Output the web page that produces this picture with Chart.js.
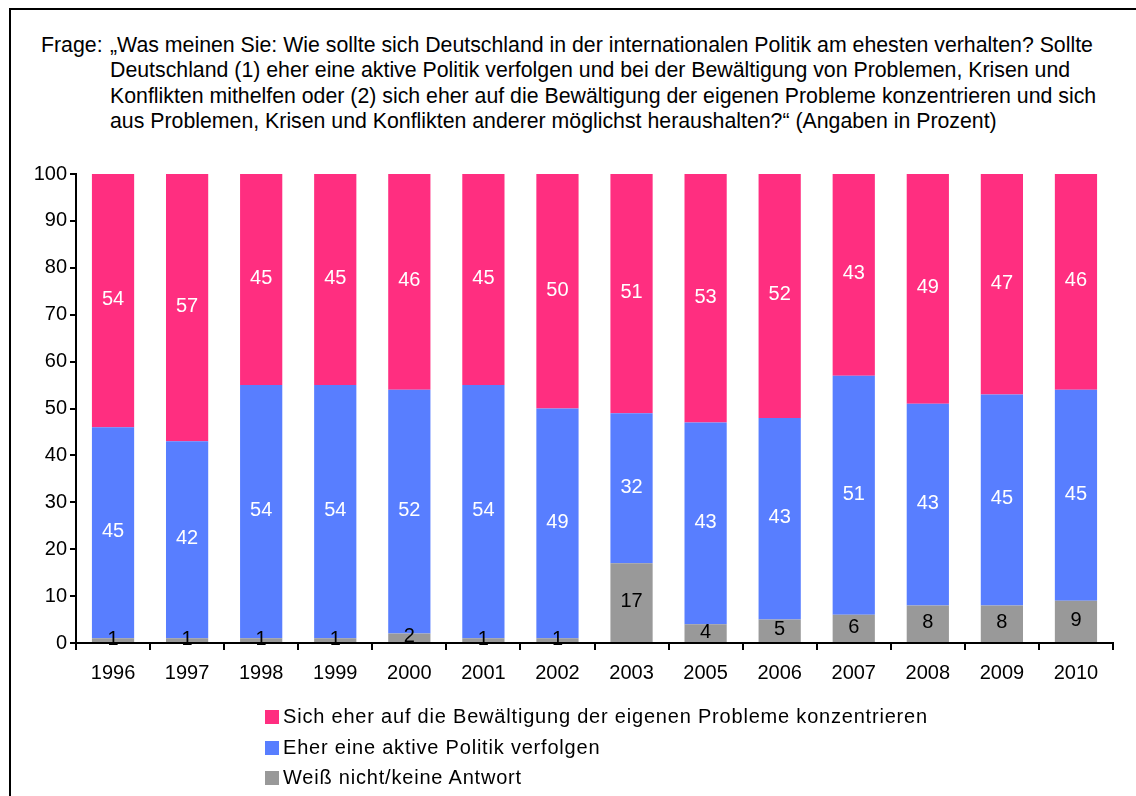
<!DOCTYPE html>
<html>
<head>
<meta charset="utf-8">
<script src="https://cdn.jsdelivr.net/npm/chart.js@4/dist/chart.umd.min.js"></script>
<style>
    body { margin: 0; background: #fff; font-family: "Liberation Sans", Arial, sans-serif; }
    #wrap { position: relative; width: 1136px; height: 796px; overflow: hidden; }
    #frame { position: absolute; left: 9px; top: 8px; width: 1140px; height: 800px;
             border-left: 2px solid #000; border-top: 2px solid #000; }
    #question { position: absolute; left: 41px; top: 33px; width: 1090px;
                font-size: 21.3px; line-height: 25.3px; color: #000;
                padding-left: 69px; text-indent: -69px; white-space: nowrap; }
    #question .lead { display: inline-block; width: 69px; text-indent: 0; }
    #chart { position: absolute; left: 0; top: 0; }
    #legend { position: absolute; left: 265px; top: 701px; font-size: 20px; color: #000; }
    #legend div { height: 30.5px; line-height: 30px; letter-spacing: 0.8px; white-space: nowrap; }
    #legend span { display: inline-block; width: 14px; height: 14px; margin-right: 4px; vertical-align: -1px; }
</style>
</head>
<body>
<div id="wrap">
    <div id="frame"></div>
    <div id="question"><span class="lead">Frage:</span>„Was meinen Sie: Wie sollte sich Deutschland in der internationalen Politik am ehesten verhalten? Sollte<br>Deutschland (1) eher eine aktive Politik verfolgen und bei der Bewältigung von Problemen, Krisen und<br>Konflikten mithelfen oder (2) sich eher auf die Bewältigung der eigenen Probleme konzentrieren und sich<br>aus Problemen, Krisen und Konflikten anderer möglichst heraushalten?“ (Angaben in Prozent)</div>
    <canvas id="chart" width="1136" height="796"></canvas>
    <div id="legend"></div>
</div>

<script>
// data (percent)
const years = ["1996", "1997", "1998", "1999", "2000", "2001", "2002", "2003", "2005", "2006", "2007", "2008", "2009", "2010"];
const weissNicht = [1, 1, 1, 1, 2, 1, 1, 17, 4, 5, 6, 8, 8, 9];
const aktivePolitik = [45, 42, 54, 54, 52, 54, 49, 32, 43, 43, 51, 43, 45, 45];
const eigeneProbleme = [54, 57, 45, 45, 46, 45, 50, 51, 53, 52, 43, 49, 47, 46];
const yTicks = [0, 10, 20, 30, 40, 50, 60, 70, 80, 90, 100];

const FONT = "'Liberation Sans', Arial, sans-serif";

// 🏷 value labels in the middle of each segment
const segmentLabels = {
    id: "segmentLabels",
    afterDatasetsDraw(chart) {
        const ctx = chart.ctx;
        ctx.save();
        ctx.font = "20px " + FONT;
        ctx.textAlign = "center";
        ctx.textBaseline = "middle";
        chart.data.datasets.forEach((ds, i) => {
            const meta = chart.getDatasetMeta(i);
            meta.data.forEach((bar, j) => {
                const y = (bar.y + bar.base) / 2;
                ctx.fillStyle = ds.labelColor;
                ctx.fillText(String(ds.data[j]), bar.x, y - 1);
            });
        });
        ctx.restore();
    }
};

const chart = new Chart(document.getElementById("chart"), {
    type: "bar",
    data: {
        labels: years,
        datasets: [
            { label: "Weiß nicht/keine Antwort", data: weissNicht, backgroundColor: "#999999", labelColor: "#000" },
            { label: "Eher eine aktive Politik verfolgen", data: aktivePolitik, backgroundColor: "#587EFF", labelColor: "#fff" },
            { label: "Sich eher auf die Bewältigung der eigenen Probleme konzentrieren", data: eigeneProbleme, backgroundColor: "#FF2E80", labelColor: "#fff" }
        ]
    },
    options: {
        responsive: false,
        animation: false,
        layout: { padding: { top: 174, right: 23, left: 0, bottom: 0 } },
        datasets: { bar: { barPercentage: 0.57, categoryPercentage: 1 } },
        plugins: {
            legend: { display: false },
            tooltip: { enabled: false }
        },
        scales: {
            x: {
                stacked: true,
                grid: { drawOnChartArea: false, offset: true, tickLength: 7, color: "#000", lineWidth: 2 },
                border: { color: "#000", width: 2 },
                ticks: { color: "#000", font: { family: FONT, size: 20 }, padding: 11, maxRotation: 0 },
                afterFit: s => { s.height = 796 - 643; }
            },
            y: {
                stacked: true,
                min: 0,
                max: 100,
                afterBuildTicks: s => { s.ticks = yTicks.map(v => ({ value: v })); },
                grid: { drawOnChartArea: false, tickLength: 6, color: "#000", lineWidth: 2 },
                border: { color: "#000", width: 2 },
                ticks: { color: "#000", font: { family: FONT, size: 20 }, padding: 3 },
                afterFit: s => { s.width = 76; }
            }
        }
    },
    plugins: [segmentLabels]
});

// 📋 LEGEND (top item = top of stack)
let output = "";
chart.data.datasets.slice().reverse().forEach(ds => {
    output += `<div><span style="background:${ds.backgroundColor}"></span>${ds.label}</div>`;
});
document.getElementById("legend").innerHTML = output;
</script>
</body>
</html>
